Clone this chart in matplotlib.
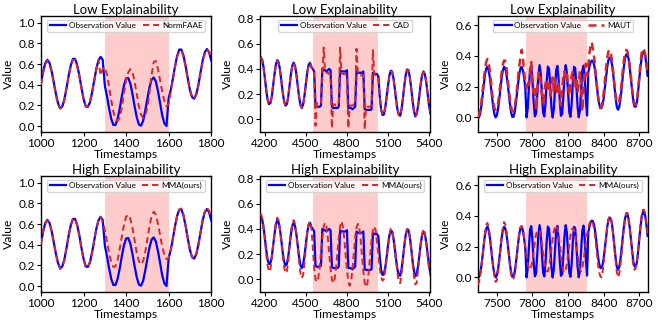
import numpy as np
import matplotlib
matplotlib.use('Agg')
import matplotlib.pyplot as plt

plt.rcParams['font.family'] = ['Lato', 'DejaVu Sans']

# ---------------- data ----------------
# Panel column 1 (timestamps 1000..1800, step 10)
ts1 = np.arange(1000, 1801, 10)
obs1 = [0.42, 0.53, 0.61, 0.64, 0.61, 0.53, 0.42, 0.31, 0.22, 0.17, 0.19,
        0.26, 0.37, 0.49, 0.59, 0.65, 0.65, 0.59, 0.49, 0.37, 0.26, 0.19, 0.185, 0.23, 0.325, 0.44, 0.555, 0.635, 0.67, 0.64,
        0.39, 0.29, 0.17, 0.07, 0.01, 0.01, 0.07, 0.17, 0.29, 0.395, 0.46, 0.465, 0.41, 0.31, 0.19, 0.085, 0.015, 0.003, 0.05, 0.15,
        0.265, 0.375, 0.45, 0.47, 0.43, 0.335, 0.22, 0.10, 0.025, 0.0,
        0.27, 0.35, 0.46, 0.58, 0.68, 0.74, 0.74, 0.68, 0.58, 0.46, 0.35, 0.28, 0.265, 0.31, 0.40, 0.52, 0.635, 0.715, 0.745, 0.715, 0.635]
normfaae1 = [0.40, 0.52, 0.60, 0.63, 0.60, 0.52, 0.41, 0.30, 0.21, 0.17, 0.19,
             0.26, 0.37, 0.48, 0.58, 0.64, 0.64, 0.58, 0.48, 0.37, 0.26, 0.195, 0.19, 0.23, 0.32, 0.43, 0.55, 0.64, 0.49, 0.55,
             0.57, 0.50, 0.38, 0.25, 0.14, 0.07, 0.05, 0.08, 0.18, 0.32, 0.44, 0.52, 0.55, 0.52, 0.43, 0.31, 0.19, 0.11, 0.08, 0.10,
             0.18, 0.32, 0.50, 0.62, 0.63, 0.55, 0.44, 0.33, 0.24, 0.19,
             0.21, 0.33, 0.45, 0.57, 0.67, 0.72, 0.73, 0.67, 0.57, 0.45, 0.35, 0.28, 0.265, 0.30, 0.39, 0.51, 0.62, 0.70, 0.74, 0.72, 0.65]
mma1 = [0.41, 0.53, 0.61, 0.635, 0.61, 0.53, 0.42, 0.31, 0.22, 0.165, 0.185,
        0.26, 0.37, 0.49, 0.59, 0.65, 0.65, 0.59, 0.49, 0.37, 0.26, 0.19, 0.18, 0.23, 0.325, 0.44, 0.555, 0.635, 0.67, 0.62,
        0.54, 0.43, 0.32, 0.23, 0.185, 0.19, 0.25, 0.36, 0.48, 0.59, 0.67, 0.69, 0.65, 0.56, 0.44, 0.32, 0.24, 0.21, 0.24, 0.33,
        0.45, 0.58, 0.68, 0.72, 0.69, 0.60, 0.49, 0.38, 0.30, 0.26,
        0.27, 0.35, 0.46, 0.58, 0.68, 0.74, 0.75, 0.69, 0.58, 0.46, 0.35, 0.28, 0.27, 0.31, 0.40, 0.52, 0.64, 0.72, 0.76, 0.73, 0.66]

# Panel column 2 (timestamps 4170..5410, step 10)
ts2 = np.arange(4170, 5411, 10)
obs2 = [0.49, 0.474, 0.412, 0.322, 0.227, 0.153, 0.121, 0.13,
        0.18, 0.269, 0.361, 0.435, 0.47, 0.454, 0.395, 0.307, 0.214, 0.142, 0.11,
        0.12, 0.177, 0.268, 0.359, 0.425, 0.45, 0.425, 0.359, 0.268, 0.177, 0.112, 0.09,
        0.122, 0.194, 0.287, 0.375, 0.434, 0.45, 0.415, 0.40, 0.38,
        0.11, 0.10, 0.10, 0.10, 0.11,
        0.40, 0.39, 0.39, 0.38, 0.39, 0.40, 0.39,
        0.10, 0.09, 0.09, 0.09, 0.09, 0.10,
        0.39, 0.38, 0.38, 0.38, 0.38, 0.39,
        0.09, 0.09, 0.09, 0.08, 0.09, 0.10,
        0.38, 0.37, 0.37, 0.37, 0.37, 0.38,
        0.08, 0.075, 0.075, 0.075, 0.075, 0.08,
        0.37, 0.36, 0.36, 0.36, 0.34,
        0.18, 0.08, 0.035, 0.039, 0.09, 0.173, 0.266, 0.344, 0.386, 0.381, 0.33, 0.247, 0.154, 0.076, 0.034,
        0.029, 0.083, 0.17, 0.269, 0.351, 0.396, 0.391, 0.337, 0.25, 0.151, 0.069, 0.024,
        0.04, 0.102, 0.19, 0.282, 0.351, 0.38, 0.36, 0.298, 0.209, 0.118, 0.049]
cad2 = [0.49, 0.47, 0.41, 0.32, 0.23, 0.155, 0.12, 0.13,
        0.18, 0.27, 0.36, 0.43, 0.465, 0.45, 0.39, 0.305, 0.215, 0.145, 0.11,
        0.12, 0.18, 0.27, 0.36, 0.42, 0.445, 0.42, 0.355, 0.265, 0.18, 0.115, 0.09,
        0.12, 0.19, 0.285, 0.37, 0.43, 0.445, 0.415, 0.40, 0.37,
        -0.05, 0.13, 0.12, 0.12, 0.13,
        0.35, 0.57, 0.38, 0.37, 0.37, 0.36, 0.36,
        -0.07, 0.12, 0.12, 0.11, 0.12, 0.12,
        0.57, 0.37, 0.36, 0.36, 0.36, 0.35,
        -0.07, 0.11, 0.11, 0.11, 0.12, 0.12,
        0.56, 0.36, 0.35, 0.35, 0.35, 0.35,
        -0.08, 0.10, 0.10, 0.10, 0.10, 0.11,
        0.55, 0.36, 0.35, 0.35, 0.33,
        0.19, 0.08, 0.04, 0.04, 0.09, 0.17, 0.26, 0.34, 0.38, 0.38, 0.33, 0.25, 0.155, 0.08, 0.035,
        0.03, 0.085, 0.17, 0.265, 0.35, 0.39, 0.39, 0.335, 0.25, 0.15, 0.07, 0.025,
        0.04, 0.10, 0.19, 0.28, 0.35, 0.375, 0.36, 0.30, 0.21, 0.12, 0.05]
mma2 = [0.52, 0.49, 0.41, 0.31, 0.20, 0.11, 0.06, 0.08,
        0.16, 0.27, 0.37, 0.45, 0.49, 0.47, 0.40, 0.30, 0.19, 0.10, 0.05,
        0.06, 0.14, 0.26, 0.37, 0.44, 0.47, 0.44, 0.36, 0.25, 0.14, 0.05, 0.01,
        0.04, 0.14, 0.26, 0.37, 0.44, 0.46, 0.40, 0.26, 0.10,
        0.0, -0.02, 0.01, 0.09, 0.21,
        0.33, 0.42, 0.45, 0.42, 0.33, 0.21, 0.09,
        0.0, -0.03, 0.0, 0.09, 0.21, 0.33,
        0.42, 0.46, 0.42, 0.33, 0.20, 0.08,
        -0.02, -0.05, -0.02, 0.08, 0.20, 0.33,
        0.41, 0.44, 0.41, 0.32, 0.19, 0.07,
        -0.03, -0.06, -0.03, 0.07, 0.19, 0.31,
        0.39, 0.42, 0.39, 0.30, 0.19,
        0.09, 0.02, -0.01, 0.0, 0.07, 0.16, 0.26, 0.35, 0.40, 0.39, 0.33, 0.24, 0.14, 0.05, -0.02,
        -0.03, 0.05, 0.16, 0.27, 0.36, 0.40, 0.40, 0.34, 0.24, 0.13, 0.03, -0.04,
        -0.03, 0.07, 0.18, 0.28, 0.36, 0.40, 0.37, 0.29, 0.19, 0.09, 0.03]

# Panel column 3 (timestamps 7340..8770, step 10)
ts3 = np.arange(7340, 8771, 10)
obs3 = [0.008, 0.001, 0.026, 0.076, 0.143, 0.215, 0.277, 0.317, 0.33, 0.311, 0.265, 0.201, 0.129, 0.065, 0.019, 0.0,
        0.013, 0.053, 0.115, 0.187, 0.254, 0.304, 0.329, 0.322, 0.287, 0.228, 0.158, 0.089, 0.034, 0.004, 0.004, 0.034,
        0.089, 0.158, 0.228, 0.287, 0.322, 0.329, 0.304, 0.254, 0.187,
        0.0, 0.058, 0.194, 0.312, 0.334, 0.242, 0.101, 0.007, 0.026, 0.143, 0.279, 0.34, 0.284, 0.15, 0.03, 0.006,
        0.095, 0.236, 0.331, 0.316, 0.201, 0.064, 0.0, 0.053, 0.186, 0.308, 0.335, 0.249, 0.108, 0.01, 0.022, 0.136,
        0.273, 0.34, 0.29, 0.157, 0.034, 0.004, 0.088, 0.229, 0.329, 0.32, 0.208, 0.07, 0.001, 0.048, 0.179, 0.304,
        0.337, 0.255, 0.115, 0.012,
        0.29, 0.33, 0.36, 0.37, 0.365, 0.34, 0.29, 0.22, 0.15, 0.095, 0.065, 0.06, 0.08, 0.125, 0.19, 0.26, 0.33,
        0.375, 0.39, 0.38, 0.345, 0.28, 0.205, 0.13, 0.07, 0.05, 0.065, 0.11, 0.18, 0.26, 0.33, 0.385, 0.41, 0.41,
        0.38, 0.32, 0.245, 0.165, 0.10, 0.07, 0.07, 0.10, 0.17, 0.25, 0.33, 0.39, 0.425, 0.43, 0.40, 0.34, 0.27]
maut3 = [0.0, 0.02, 0.05, 0.10, 0.17, 0.25, 0.31, 0.36, 0.38, 0.36, 0.31, 0.24, 0.16, 0.10, 0.06, 0.05,
         0.06, 0.09, 0.15, 0.22, 0.29, 0.34, 0.37, 0.37, 0.33, 0.26, 0.19, 0.12, 0.07, 0.04, 0.04, 0.07,
         0.12, 0.19, 0.27, 0.34, 0.40, 0.44, 0.38, 0.30, 0.22,
         0.19, 0.24, 0.21, 0.27, 0.36, 0.24, 0.16, 0.20, 0.05, 0.18, 0.28, 0.30, 0.22, 0.15, 0.10, 0.17,
         0.22, 0.25, 0.18, 0.22, 0.14, 0.21, 0.26, 0.17, 0.25, 0.20, 0.15, 0.23, 0.12, 0.08, 0.18, 0.27,
         0.30, 0.25, 0.28, 0.20, 0.14, 0.22, 0.27, 0.30, 0.22, 0.19, 0.26, 0.16, 0.22, 0.30, 0.19, 0.04,
         0.22, 0.30, 0.35, 0.27,
         0.33, 0.42, 0.47, 0.49, 0.44, 0.39, 0.31, 0.23, 0.15, 0.09, 0.06, 0.07, 0.10, 0.16, 0.24, 0.32, 0.39,
         0.43, 0.44, 0.42, 0.37, 0.30, 0.22, 0.15, 0.10, 0.09, 0.10, 0.15, 0.22, 0.30, 0.37, 0.42, 0.44, 0.43,
         0.39, 0.33, 0.26, 0.18, 0.12, 0.09, 0.08, 0.11, 0.18, 0.27, 0.36, 0.42, 0.45, 0.44, 0.41, 0.36, 0.29]
mma3 = [-0.05, -0.03, 0.01, 0.07, 0.14, 0.22, 0.29, 0.34, 0.355, 0.33, 0.28, 0.21, 0.13, 0.06, 0.0, -0.03,
        -0.02, 0.03, 0.10, 0.18, 0.26, 0.32, 0.36, 0.35, 0.31, 0.24, 0.16, 0.08, 0.02, -0.01, -0.01, 0.02,
        0.08, 0.15, 0.23, 0.29, 0.33, 0.335, 0.31, 0.26, 0.19,
        0.14, 0.09, 0.06, 0.05, 0.07, 0.11, 0.17, 0.23, 0.28, 0.30, 0.31, 0.30, 0.27, 0.22, 0.16, 0.10,
        0.06, 0.04, 0.04, 0.07, 0.12, 0.19, 0.25, 0.30, 0.33, 0.34, 0.32, 0.28, 0.22, 0.15, 0.08, 0.04,
        0.03, 0.05, 0.09, 0.15, 0.21, 0.27, 0.31, 0.32, 0.31, 0.27, 0.21, 0.15, 0.09, 0.05, 0.04, 0.06,
        0.11, 0.17, 0.23, 0.28,
        0.32, 0.35, 0.37, 0.37, 0.35, 0.31, 0.25, 0.18, 0.10, 0.04, 0.01, 0.0, 0.03, 0.09, 0.17, 0.25, 0.33,
        0.38, 0.40, 0.39, 0.35, 0.28, 0.19, 0.11, 0.04, 0.0, 0.02, 0.07, 0.15, 0.24, 0.32, 0.38, 0.42, 0.42,
        0.38, 0.31, 0.23, 0.14, 0.07, 0.05, 0.06, 0.10, 0.17, 0.26, 0.35, 0.41, 0.44, 0.44, 0.41, 0.35, 0.28]

anomaly_spans = [(1300, 1600), (4550, 5025), (7745, 8262)]
xlims = [(1000, 1800), (4165, 5410), (7341, 8774)]
ylims = [(-0.058, 1.065), (-0.1, 0.82), (-0.095, 0.66)]
xticks = [[1000, 1200, 1400, 1600, 1800], [4200, 4500, 4800, 5100, 5400], [7500, 7800, 8100, 8400, 8700]]
yticks = [[0.0, 0.2, 0.4, 0.6, 0.8, 1.0], [0.0, 0.2, 0.4, 0.6, 0.8], [0.0, 0.2, 0.4, 0.6]]
titles = ["Low Explainability", "High Explainability"]
obs_series = [(ts1, obs1), (ts2, obs2), (ts3, obs3)]
top_methods = [("NormFAAE", normfaae1), ("CAD", cad2), ("MAUT", maut3)]
bottom_methods = [("MMA(ours)", mma1), ("MMA(ours)", mma2), ("MMA(ours)", mma3)]

# ---------------- figure ----------------
fig = plt.figure(figsize=(6.62, 3.2), dpi=100)
lefts = [0.062, 0.393, 0.722]
width = 0.257
bottoms = [0.5875, 0.0875]
height = 0.3625

blue = '#0000ff'
red = '#d62728'

for row in range(2):
    methods = top_methods if row == 0 else bottom_methods
    for col in range(3):
        ax = fig.add_axes([lefts[col], bottoms[row], width, height])
        ts, obs = obs_series[col]
        name, pred = methods[col]
        ax.axvspan(*anomaly_spans[col], color='#ffcccc', zorder=0, lw=0)
        ax.plot(ts, obs, color=blue, lw=1.6, label='Observation Value', zorder=2)
        plw = 1.8 if (row == 0 and col == 2) else 1.4
        ax.plot(ts, pred, color=red, lw=plw, ls='--', dashes=(3.2, 2), label=name, zorder=3)
        ax.set_xlim(*xlims[col])
        ax.set_ylim(*ylims[col])
        ax.set_xticks(xticks[col])
        ax.set_yticks(yticks[col])
        ax.set_yticklabels([f"{v:.1f}" for v in yticks[col]])
        ax.tick_params(labelsize=8.5, length=3, width=0.8, pad=1.5)
        ax.set_title(titles[row], fontsize=9.5, pad=1.5)
        ax.set_xlabel('Timestamps', fontsize=8.7, labelpad=0)
        ax.set_ylabel('Value', fontsize=8.7, labelpad=3)
        for s in ax.spines.values():
            s.set_linewidth(1.0)
        ax.legend(loc='upper center', ncol=2, fontsize=5.9, handlelength=2.0,
                  columnspacing=0.8, handletextpad=0.35, borderpad=0.3,
                  borderaxespad=0.45, frameon=True, fancybox=True, framealpha=0.8)

fig.savefig('out.png', dpi=100)
